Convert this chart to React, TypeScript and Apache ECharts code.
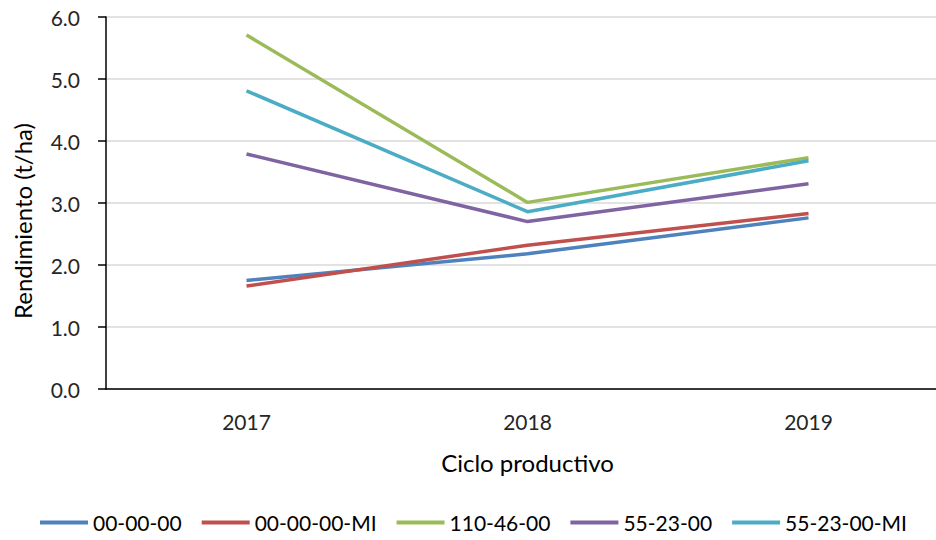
import React, { useEffect, useRef } from "react";
import * as echarts from "echarts";

// Production cycles on the category axis
const categories = ["2017", "2018", "2019"];

// Yield (t/ha) per fertilization treatment
const seriesNames = ["00-00-00", "00-00-00-MI", "110-46-00", "55-23-00", "55-23-00-MI"];
const s0000000 = [1.75, 2.18, 2.76];
const s0000000MI = [1.66, 2.32, 2.83];
const s1104600 = [5.71, 3.01, 3.73];
const s552300 = [3.79, 2.7, 3.31];
const s552300MI = [4.81, 2.86, 3.68];

const colors = ["#4F81BD", "#C0504D", "#9BBB59", "#8064A2", "#4BACC6"];

const FONT = "Lato, 'Noto Sans', sans-serif";
const TEXT = "#262626";

export default function App() {
  const ref = useRef<HTMLDivElement>(null);

  useEffect(() => {
    if (!ref.current) return;
    const chart = echarts.init(ref.current, null, { renderer: "svg" });
    const values = [s0000000, s0000000MI, s1104600, s552300, s552300MI];

    chart.setOption({
      animation: false,
      backgroundColor: "#ffffff",
      color: colors,
      textStyle: { fontFamily: FONT, color: TEXT },
      // plot area runs past the right edge of the visible frame
      grid: { left: 106, top: 17, width: 843, height: 372 },
      legend: {
        top: 512,
        left: 40,
        padding: 0,
        icon: "rect",
        itemWidth: 48,
        itemHeight: 4,
        itemGap: 20,
        textStyle: {
          fontFamily: FONT,
          fontSize: 21,
          color: "#000000",
        },
        data: seriesNames,
      },
      xAxis: {
        type: "category",
        data: categories,
        boundaryGap: true,
        axisLine: { show: true, lineStyle: { color: "#000000", width: 1.5 } },
        axisTick: { show: false },
        axisLabel: { fontSize: 21, color: TEXT, margin: 22, fontFamily: FONT },
        name: "Ciclo productivo",
        nameLocation: "middle",
        nameGap: 61,
        nameTextStyle: { fontSize: 24, color: "#000000", fontFamily: FONT },
      },
      yAxis: {
        type: "value",
        min: 0,
        max: 6,
        interval: 1,
        axisLine: { show: true, lineStyle: { color: "#000000", width: 1.5 } },
        axisTick: { show: true, inside: false, length: 8, lineStyle: { color: "#000000", width: 1.5 } },
        axisLabel: {
          fontSize: 21,
          color: TEXT,
          margin: 26,
          fontFamily: FONT,
          formatter: (v: number) => v.toFixed(1),
        },
        splitLine: { show: true, lineStyle: { color: "#D9D9D9", width: 1.5 } },
      },
      graphic: [
        {
          type: "text",
          x: 22,
          y: 221,
          rotation: Math.PI / 2,
          style: {
            text: "Rendimiento (t/ha)",
            font: `24px ${FONT}`,
            fill: "#000000",
            align: "center",
            verticalAlign: "middle",
          },
        },
      ],
      series: seriesNames.map((name, i) => ({
        name,
        type: "line",
        data: values[i],
        symbol: "none",
        lineStyle: { width: 3.5, color: colors[i] },
        itemStyle: { color: colors[i] },
      })),
    });

    return () => chart.dispose();
  }, []);

  return (
    <div
      style={{
        position: "fixed",
        left: 0,
        top: 0,
        width: 936,
        height: 540,
        overflow: "hidden",
      }}
    >
      <div ref={ref} style={{ width: 960, height: 540 }} />
    </div>
  );
}
